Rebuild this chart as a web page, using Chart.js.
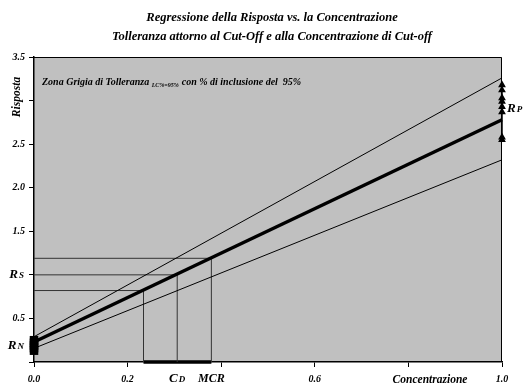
<!DOCTYPE html>
<html>
<head>
<meta charset="utf-8">
<script src="https://cdn.jsdelivr.net/npm/chart.js@4/dist/chart.umd.min.js"></script>
<style>
    html, body { margin: 0; padding: 0; background: #fff; }
    #wrap { width: 524px; height: 388px; }
</style>
</head>
<body>
<div id="wrap"><canvas id="regressionChart"></canvas></div>
<script>
// regression ends (concentration 0 and 1)
const concEnds = [0, 1];
const fitLine = [0.23, 2.78];
const upperLine = [0.29, 3.26];
const lowerLine = [0.157, 2.32];

// cut-off construction: C at the three crossings and the matching responses
const cutX = [0.234, 0.306, 0.379];
const cutY = [0.82, 1.0, 1.19];

// replicate responses of negative (C=0) and positive (C=1) samples
const negValues = [0.13, 0.16, 0.19, 0.22, 0.25];
const posValues = [2.55, 2.58, 2.87, 2.93, 2.99, 3.03, 3.12, 3.18];

const xTickLabels = ['0.0', '0.2', '', '0.6', '', '1.0'];
const yTickLabels = ['', '0.5', '', '1.5', '2.0', '2.5', '', '3.5'];
const titleLines = ['Regressione della Risposta vs. la Concentrazione',
                    'Tolleranza attorno al Cut-Off e alla Concentrazione di Cut-off'];

const serif = 'Liberation Serif, Times New Roman, serif';

function toPoints(xs, ys) {
    return xs.map((x, i) => ({ x: x, y: ys[i] }));
}

const datasets = [];
datasets.push({ data: toPoints(concEnds, upperLine), borderColor: '#000', borderWidth: 1 });
datasets.push({ data: toPoints(concEnds, lowerLine), borderColor: '#000', borderWidth: 1 });
datasets.push({ data: toPoints(concEnds, fitLine), borderColor: '#000', borderWidth: 3.5 });

// horizontal and vertical cut-off lines
cutX.forEach((cx, i) => {
    datasets.push({ data: [{ x: 0, y: cutY[i] }, { x: cx, y: cutY[i] }], borderColor: '#333', borderWidth: 1 });
    datasets.push({ data: [{ x: cx, y: 0 }, { x: cx, y: cutY[i] }], borderColor: '#333', borderWidth: 1 });
});

// grey zone on the x axis
datasets.push({ data: [{ x: cutX[0], y: 0 }, { x: cutX[2], y: 0 }], borderColor: '#000', borderWidth: 3.5 });

// replicates
datasets.push({
    data: negValues.map(v => ({ x: 0, y: v })),
    borderColor: '#000', borderWidth: 5,
    pointRadius: 2.5, pointStyle: 'rect', pointBackgroundColor: '#000'
});
datasets.push({
    data: posValues.map(v => ({ x: 1, y: v })),
    borderColor: '#000', borderWidth: 1.5,
    pointRadius: 3, pointStyle: 'triangle', pointBackgroundColor: '#000'
});

datasets.forEach(d => {
    d.showLine = true;
    d.fill = false;
    d.clip = false;
    if (d.pointRadius === undefined) d.pointRadius = 0;
});

const plotBackground = {
    id: 'plotBackground',
    beforeDraw(chart) {
        const { ctx, chartArea: a } = chart;
        ctx.save();
        ctx.fillStyle = '#c0c0c0';
        ctx.fillRect(a.left, a.top, a.right - a.left, a.bottom - a.top);
        ctx.strokeStyle = '#000';
        ctx.lineWidth = 1;
        ctx.beginPath();
        ctx.moveTo(a.left, a.top + 0.5);
        ctx.lineTo(a.right - 0.5, a.top + 0.5);
        ctx.lineTo(a.right - 0.5, a.bottom);
        ctx.stroke();
        ctx.restore();
    }
};

function labelWithSub(ctx, main, sub, x, y, mainSize, subSize, align) {
    ctx.font = `italic bold ${mainSize}px ${serif}`;
    const w1 = ctx.measureText(main).width;
    ctx.font = `italic bold ${subSize}px ${serif}`;
    const w2 = ctx.measureText(sub).width;
    let left = x;
    if (align === 'right') left = x - w1 - w2 - 1;
    if (align === 'center') left = x - (w1 + w2 + 1) / 2;
    ctx.textAlign = 'left';
    ctx.textBaseline = 'middle';
    ctx.font = `italic bold ${mainSize}px ${serif}`;
    ctx.fillText(main, left, y);
    ctx.font = `italic bold ${subSize}px ${serif}`;
    ctx.fillText(sub, left + w1 + 1, y + 1);
}

const annotations = {
    id: 'annotations',
    afterDraw(chart) {
        const { ctx, chartArea: a } = chart;
        const xs = chart.scales.x, ys = chart.scales.y;
        const mean = arr => arr.reduce((s, v) => s + v, 0) / arr.length;
        ctx.save();
        ctx.fillStyle = '#000';

        // title
        ctx.font = `italic bold 12.5px ${serif}`;
        ctx.textAlign = 'center';
        ctx.textBaseline = 'middle';
        ctx.fillText(titleLines[0], 272, 18);
        ctx.fillText(titleLines[1], 272, 37);

        // response labels
        labelWithSub(ctx, 'R', 'S', 24, ys.getPixelForValue(cutY[1]), 13, 9, 'right');
        labelWithSub(ctx, 'R', 'N', 24, ys.getPixelForValue(mean(negValues)), 13, 9, 'right');
        labelWithSub(ctx, 'R', 'P', a.right + 5, ys.getPixelForValue(mean(posValues)), 13, 9, 'left');

        // concentration labels
        labelWithSub(ctx, 'C', 'D', xs.getPixelForValue(cutX[1]), 379, 13, 9, 'center');
        ctx.font = `italic bold 12px ${serif}`;
        ctx.textAlign = 'center';
        ctx.textBaseline = 'middle';
        ctx.fillText('MCR', xs.getPixelForValue(cutX[2]), 379);

        ctx.font = `italic bold 11.5px ${serif}`;
        ctx.fillText('Concentrazione', 430, 380);

        // y title
        ctx.save();
        ctx.translate(17, 97);
        ctx.rotate(-Math.PI / 2);
        ctx.fillText('Risposta', 0, 0);
        ctx.restore();

        // grey zone note
        ctx.textAlign = 'left';
        ctx.textBaseline = 'alphabetic';
        let x = 42;
        const y = 85;
        ctx.font = `italic bold 10px ${serif}`;
        let t = 'Zona Grigia di Tolleranza ';
        ctx.fillText(t, x, y);
        x += ctx.measureText(t).width;
        ctx.font = `italic bold 6px ${serif}`;
        t = 'LC%=95%';
        ctx.fillText(t, x, y + 2);
        x += ctx.measureText(t).width + 3;
        ctx.font = `italic bold 10px ${serif}`;
        ctx.fillText('con % di inclusione del  95%', x, y);

        ctx.restore();
    }
};

const ctx = document.getElementById('regressionChart').getContext('2d');
new Chart(ctx, {
    type: 'scatter',
    data: { datasets: datasets },
    options: {
        responsive: true,
        maintainAspectRatio: false,
        animation: false,
        layout: { padding: { left: 0, right: 22, top: 57, bottom: 0 } },
        plugins: {
            legend: { display: false },
            tooltip: { enabled: false },
            title: { display: false }
        },
        scales: {
            x: {
                type: 'linear',
                min: 0,
                max: 1,
                afterFit: scale => { scale.height = 26; },
                ticks: {
                    stepSize: 0.2,
                    color: '#000',
                    padding: 6,
                    maxRotation: 0,
                    font: { family: serif, size: 10, style: 'italic', weight: 'bold' },
                    callback: (value, index) => xTickLabels[index]
                },
                grid: { drawOnChartArea: false, drawTicks: true, tickLength: 5, color: '#000' },
                border: { display: true, color: '#000', width: 1.5 }
            },
            y: {
                type: 'linear',
                min: 0,
                max: 3.5,
                afterFit: scale => { scale.width = 34; },
                ticks: {
                    stepSize: 0.5,
                    color: '#000',
                    padding: 4,
                    font: { family: serif, size: 10, style: 'italic', weight: 'bold' },
                    callback: (value, index) => yTickLabels[index]
                },
                grid: { drawOnChartArea: false, drawTicks: true, tickLength: 5, color: '#000' },
                border: { display: true, color: '#000', width: 1.5 }
            }
        }
    },
    plugins: [plotBackground, annotations]
});
</script>
</body>
</html>
